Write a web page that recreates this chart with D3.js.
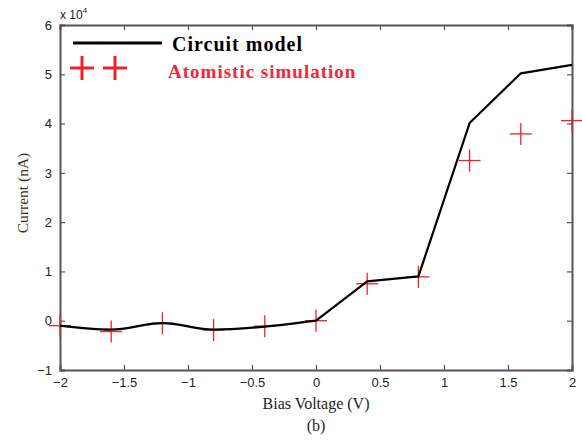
<!DOCTYPE html>
<html>
<head>
<meta charset="utf-8">
<script src="https://cdn.jsdelivr.net/npm/d3@7"></script>
<style>
  body { margin: 0; background: #fff; }
  .tick text { font-family: Arial, "Liberation Sans", sans-serif; font-size: 13px; fill: #222; }
  .axis path, .axis line { stroke: #555; }
</style>
</head>
<body>
<svg id="chart" width="582" height="440"></svg>
<script>
const voltage = [-2, -1.6, -1.2, -0.8, -0.4, 0, 0.4, 0.8, 1.2, 1.6, 2]
const circuitModel = [-0.1, -0.18, -0.05, -0.18, -0.12, 0, 0.8, 0.9, 4.01, 5.02, 5.19]
const atomistic = [-0.1, -0.22, -0.05, -0.19, -0.11, 0, 0.75, 0.89, 3.25, 3.79, 4.06]
const xTicks = [-2, -1.5, -1, -0.5, 0, 0.5, 1, 1.5, 2]
const yTicks = [-1, 0, 1, 2, 3, 4, 5, 6]

const m = { left: 60, right: 572, top: 25, bottom: 370 }
const svg = d3.select('#chart')

const x = d3.scaleLinear().domain([-2, 2]).range([m.left, m.right])
const y = d3.scaleLinear().domain([-1, 6]).range([m.bottom, m.top])

// Axes (box with inward ticks)
svg.append('g').classed('axis', true)
    .attr('transform', `translate(0,${m.bottom})`)
    .call(d3.axisBottom(x).tickValues(xTicks).tickSize(-5).tickPadding(8).tickFormat(d3.format('')))
svg.append('g').classed('axis', true)
    .attr('transform', `translate(0,${m.top})`)
    .call(d3.axisTop(x).tickValues(xTicks).tickSize(-5).tickFormat(''))
svg.append('g').classed('axis', true)
    .attr('transform', `translate(${m.left},0)`)
    .call(d3.axisLeft(y).tickValues(yTicks).tickSize(-5).tickPadding(8).tickFormat(d3.format('')))
svg.append('g').classed('axis', true)
    .attr('transform', `translate(${m.right},0)`)
    .call(d3.axisRight(y).tickValues(yTicks).tickSize(-5).tickFormat(''))

svg.selectAll('.axis path.domain').attr('stroke-width', 2)
svg.selectAll('.axis .tick line').attr('stroke-width', 1.2)

// Atomistic simulation crosses
const cross = 11
const crosses = svg.append('g').attr('stroke', '#f0202a').attr('stroke-width', 1.3)
voltage.forEach((v, i) => {
    const cx = x(v), cy = y(atomistic[i])
    crosses.append('line').attr('x1', cx - cross).attr('x2', cx + cross).attr('y1', cy).attr('y2', cy)
    crosses.append('line').attr('x1', cx).attr('x2', cx).attr('y1', cy - cross).attr('y2', cy + cross)
})

// Circuit model line: smooth in reverse bias, straight segments in forward bias
const pts = voltage.map((v, i) => [v, circuitModel[i]])
const smooth = d3.line().x(d => x(d[0])).y(d => y(d[1])).curve(d3.curveMonotoneX)
const straight = d3.line().x(d => x(d[0])).y(d => y(d[1]))
svg.append('path')
    .attr('d', smooth(pts.filter(d => d[0] <= 0)) + straight(pts.filter(d => d[0] >= 0)).replace(/^M/, 'L'))
    .attr('fill', 'none')
    .attr('stroke', '#000')
    .attr('stroke-width', 2.2)
    .attr('stroke-linejoin', 'round')

// Legend
const serif = '"Liberation Serif", "Times New Roman", serif'
svg.append('line').attr('x1', 73).attr('x2', 162).attr('y1', 43).attr('y2', 43)
    .attr('stroke', '#000').attr('stroke-width', 3)
svg.append('text').attr('x', 172).attr('y', 51)
    .attr('font-family', serif).attr('font-weight', 'bold').attr('font-size', 20)
    .attr('letter-spacing', 1).attr('fill', '#000')
    .text('Circuit model')
const leg = svg.append('g').attr('stroke', '#f0202a').attr('stroke-width', 3)
;[82, 115].forEach(cx => {
    leg.append('line').attr('x1', cx - 12).attr('x2', cx + 12).attr('y1', 68).attr('y2', 68)
    leg.append('line').attr('x1', cx).attr('x2', cx).attr('y1', 56).attr('y2', 80)
})
svg.append('text').attr('x', 168).attr('y', 78)
    .attr('font-family', serif).attr('font-weight', 'bold').attr('font-size', 19)
    .attr('letter-spacing', 1).attr('fill', '#f0283c')
    .text('Atomistic simulation')

// Exponent label
const ex = svg.append('text').attr('x', 60).attr('y', 19)
    .attr('font-family', 'Arial, "Liberation Sans", sans-serif').attr('font-size', 12).attr('fill', '#222')
ex.append('tspan').text('x 10')
ex.append('tspan').attr('dy', -6).attr('font-size', 8).text('4')

// Axis titles
svg.append('text')
    .attr('transform', `translate(28,193) rotate(-90)`)
    .attr('text-anchor', 'middle')
    .attr('font-family', serif).attr('font-size', 15.5).attr('fill', '#3a3020')
    .text('Current (nA)')
svg.append('text').attr('x', 316).attr('y', 409).attr('text-anchor', 'middle')
    .attr('font-family', serif).attr('font-size', 16).attr('fill', '#222')
    .text('Bias Voltage (V)')
svg.append('text').attr('x', 316).attr('y', 431).attr('text-anchor', 'middle')
    .attr('font-family', serif).attr('font-size', 16).attr('fill', '#222')
    .text('(b)')
</script>
</body>
</html>
